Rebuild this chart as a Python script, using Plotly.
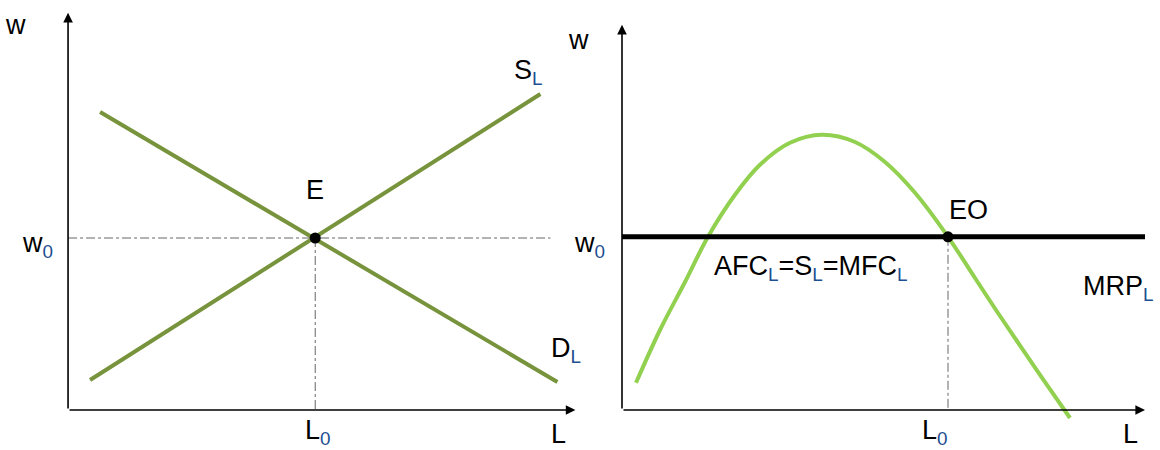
import plotly.graph_objects as go

# left panel: labour market (S_L and D_L)
supply_x = [0.44, 9.44]
supply_y = [0.75, 7.9]
demand_x = [0.64, 9.78]
demand_y = [7.45, 0.7]
e_x, e_y = 4.94, 4.3

# right panel: firm, MRP_L curve and flat wage line
mrp_x = [0.28, 0.76, 1.26, 1.72, 2.26, 2.76, 3.36, 4.0, 4.66, 5.26, 5.86, 6.52, 7.06, 7.56, 8.36, 8.96]
mrp_y = [0.68, 2.0, 3.2, 4.33, 5.38, 6.13, 6.68, 6.88, 6.7, 6.2, 5.43, 4.33, 3.3, 2.35, 0.88, -0.2]
wage_x = [0, 10.46]
wage_y = [4.33, 4.33]
eo_x, eo_y = 6.52, 4.33

OLIVE = "#77933C"
LGREEN = "#92D050"
SUBC = "#1d4f91"
FONT = "Liberation Sans, Arial, sans-serif"

fig = go.Figure()

# left
fig.add_trace(go.Scatter(x=[0, 9.64], y=[e_y, e_y], mode="lines",
                         line=dict(color="#666", width=1, dash="dashdot")))
fig.add_trace(go.Scatter(x=[e_x, e_x], y=[e_y, 0], mode="lines",
                         line=dict(color="#666", width=1, dash="dashdot")))
fig.add_trace(go.Scatter(x=supply_x, y=supply_y, mode="lines", line=dict(color=OLIVE, width=4)))
fig.add_trace(go.Scatter(x=demand_x, y=demand_y, mode="lines", line=dict(color=OLIVE, width=4)))
fig.add_trace(go.Scatter(x=[e_x], y=[e_y], mode="markers", marker=dict(color="black", size=11)))

# right
fig.add_trace(go.Scatter(x=[eo_x, eo_x], y=[eo_y, 0], mode="lines", xaxis="x2",
                         line=dict(color="#666", width=1, dash="dashdot")))
fig.add_trace(go.Scatter(x=mrp_x, y=mrp_y, mode="lines", xaxis="x2",
                         line=dict(color=LGREEN, width=4, shape="spline")))
fig.add_trace(go.Scatter(x=wage_x, y=wage_y, mode="lines", xaxis="x2",
                         line=dict(color="black", width=5)))
fig.add_trace(go.Scatter(x=[eo_x], y=[eo_y], mode="markers", xaxis="x2",
                         marker=dict(color="black", size=11)))

# axes with arrows
def arrow(xr, x, y, ax, ay):
    fig.add_annotation(x=x, y=y, ax=ax, ay=ay, xref=xr, yref="y", axref=xr, ayref="y",
                       text="", showarrow=True, arrowhead=2, arrowsize=1.2,
                       arrowwidth=1.6, arrowcolor="black")

arrow("x", 0, 9.93, 0, 0)
arrow("x", 10.14, 0, 0, 0)
arrow("x2", 0, 9.63, 0, 0)
arrow("x2", 10.46, 0, 0, 0)

def sub(s):
    return "<sub><span style='color:%s'>%s</span></sub>" % (SUBC, s)

labels = [
    ("x", -1.06, 9.63, "w"),
    ("x", -0.62, 4.13, "w" + sub("0")),
    ("x", 9.2, 8.45, "S" + sub("L")),
    ("x", 4.94, 5.5, "E"),
    ("x", 9.95, 1.5, "D" + sub("L")),
    ("x", 5.0, -0.55, "L" + sub("0")),
    ("x", 9.8, -0.6, "L"),
    ("x2", -0.88, 9.25, "w"),
    ("x2", -0.66, 4.13, "w" + sub("0")),
    ("x2", 6.92, 5.0, "EO"),
    ("x2", 3.77, 3.55, "AFC" + sub("L") + "=S" + sub("L") + "=MFC" + sub("L")),
    ("x2", 9.92, 3.05, "MRP" + sub("L")),
    ("x2", 6.26, -0.55, "L" + sub("0")),
    ("x2", 10.16, -0.6, "L"),
]
for xr, x, y, t in labels:
    fig.add_annotation(x=x, y=y, xref=xr, yref="y", text=t, showarrow=False,
                       font=dict(family=FONT, size=27, color="black"))

hidden = dict(visible=False, showgrid=False, zeroline=False)
fig.update_layout(
    width=1160, height=450,
    margin=dict(l=0, r=0, t=0, b=0),
    paper_bgcolor="white", plot_bgcolor="white",
    showlegend=False,
    xaxis=dict(domain=[0, 0.49], range=[-1.36, 10.0], **hidden),
    xaxis2=dict(domain=[0.49, 1], range=[-1.072, 10.76], anchor="y", **hidden),
    yaxis=dict(domain=[0, 1], range=[-1.0, 10.25], **hidden),
)

fig.write_html("out.html", config={"displayModeBar": False},
               post_script="document.body.style.margin='0';")
